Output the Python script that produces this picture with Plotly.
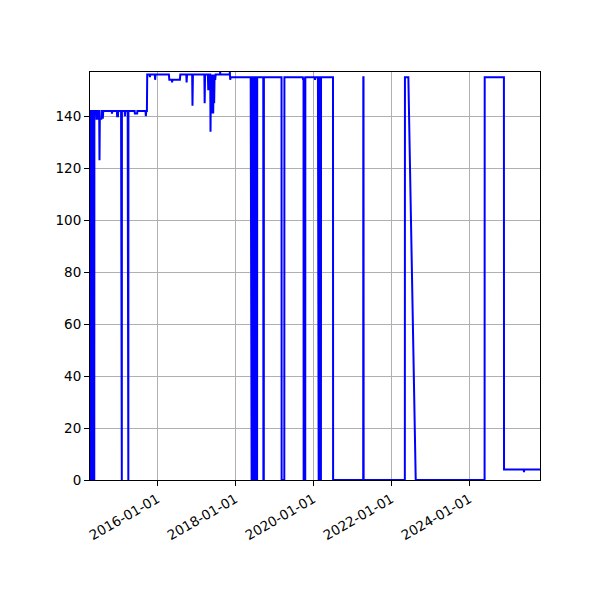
import plotly.graph_objects as go

dates = [
    "2014-04-10", "2014-04-13", "2014-04-14", "2014-04-20", "2014-04-21",
    "2014-04-27", "2014-04-28", "2014-05-05", "2014-05-06",
    "2014-05-12", "2014-05-13", "2014-05-20", "2014-05-21",
    "2014-06-08", "2014-06-10", "2014-06-20", "2014-06-22",
    "2014-07-05", "2014-07-08", "2014-07-11", "2014-07-25", "2014-07-28",
    "2014-08-06", "2014-08-08", "2014-08-12",
    "2014-10-30", "2014-11-02", "2014-11-06",
    "2014-12-18", "2014-12-20", "2014-12-28", "2014-12-30",
    "2015-01-26", "2015-01-27", "2015-02-02", "2015-02-03",
    "2015-03-01", "2015-03-03", "2015-03-07",
    "2015-03-29", "2015-03-30", "2015-04-04", "2015-04-05",
    "2015-06-02", "2015-06-04", "2015-06-26", "2015-06-28",
    "2015-09-12", "2015-09-15", "2015-09-19",
    "2015-09-25", "2015-09-28",
    "2015-10-20", "2015-10-23", "2015-10-27",
    "2015-12-08", "2015-12-11", "2015-12-15",
    "2016-04-18", "2016-04-22", "2016-05-14", "2016-05-18", "2016-05-22", "2016-07-30", "2016-08-03",
    "2016-09-28", "2016-10-01", "2016-10-05",
    "2016-11-22", "2016-11-25", "2016-11-29",
    "2017-03-16", "2017-03-19", "2017-03-23",
    "2017-04-18", "2017-04-22", "2017-04-26",
    "2017-05-10", "2017-05-13", "2017-05-16", "2017-05-20", "2017-05-25", "2017-05-29",
    "2017-06-03", "2017-06-07", "2017-06-11", "2017-06-16", "2017-06-20", "2017-06-26", "2017-06-30",
    "2017-08-09", "2017-08-11", "2017-08-14",
    "2017-11-08", "2017-11-10", "2017-11-13", "2017-11-18",
    "2018-05-24",
    "2018-05-27", "2018-06-02", "2018-06-03", "2018-06-08", "2018-06-09", "2018-06-15",
    "2018-06-16", "2018-06-21", "2018-06-22", "2018-06-28", "2018-06-29", "2018-07-04",
    "2018-07-05", "2018-07-11", "2018-07-12", "2018-07-17", "2018-07-18", "2018-07-23", "2018-07-24",
    "2018-09-19", "2018-09-20", "2018-09-24", "2018-09-25",
    "2019-03-09", "2019-03-10", "2019-04-04", "2019-04-05",
    "2019-09-24", "2019-09-27", "2019-10-01", "2019-10-02", "2019-10-17", "2019-10-18",
    "2020-01-14", "2020-01-17", "2020-01-21",
    "2020-02-13", "2020-02-14", "2020-02-20", "2020-02-21", "2020-02-27", "2020-02-28",
    "2020-03-12", "2020-03-13",
    "2020-07-03", "2020-07-04",
    "2021-04-12", "2021-04-13", "2021-04-15", "2021-04-16",
    "2022-05-07", "2022-05-08", "2022-06-09", "2022-08-17",
    "2024-05-23", "2024-05-24", "2024-11-20", "2024-11-21",
    "2025-05-24", "2025-05-27", "2025-05-30", "2025-10-24",
]

values = [
    142, 142, 0, 0, 142,
    142, 0, 0, 142,
    142, 0, 0, 142,
    142, 139, 139, 142,
    142, 123, 139, 139, 142,
    142, 139, 142,
    142, 141, 142,
    142, 140, 140, 142,
    142, 0, 0, 142,
    142, 140, 142,
    142, 0, 0, 142,
    142, 141, 141, 142,
    142, 140, 142,
    142, 156,
    156, 155, 156,
    156, 154, 156,
    156, 154, 154, 153, 154, 154, 156,
    156, 153, 156,
    156, 144, 156,
    156, 145, 156,
    156, 150, 156,
    156, 134, 150, 141, 156, 143,
    156, 141, 156, 145, 156, 154, 156,
    156, 157, 156,
    156, 157, 154, 155,
    155,
    0, 0, 155, 155, 0, 0,
    155, 155, 0, 0, 155, 155,
    0, 0, 155, 155, 0, 0, 155,
    155, 0, 0, 155,
    155, 0, 0, 155,
    155, 154, 155, 0, 0, 155,
    155, 154, 155,
    155, 0, 0, 155, 155, 0,
    0, 155,
    155, 0,
    0, 155, 155, 0,
    0, 155, 155, 0,
    0, 155, 155, 4,
    4, 3, 4, 4,
]

x_tick_vals = ["2016-01-01", "2018-01-01", "2020-01-01", "2022-01-01", "2024-01-01"]
x_tick_text = ["2016-01-01", "2018-01-01", "2020-01-01", "2022-01-01", "2024-01-01"]
y_tick_vals = [0, 20, 40, 60, 80, 100, 120, 140]

fig = go.Figure()
fig.add_trace(go.Scatter(
    x=dates, y=values, mode="lines",
    line=dict(color="#0000ff", width=2),
    showlegend=False,
))

axis_common = dict(
    showline=True, linecolor="black", linewidth=1.1, mirror=True,
    ticks="outside", ticklen=5, tickwidth=1.1, tickcolor="black",
    showgrid=True, gridcolor="#b0b0b0", gridwidth=1.1,
    zeroline=False,
    tickfont=dict(family="DejaVu Sans", size=13.5, color="black"),
)

fig.update_layout(
    width=600, height=600,
    margin=dict(l=82, r=68, t=64, b=128),
    paper_bgcolor="white", plot_bgcolor="white",
    xaxis=dict(
        type="date",
        range=["2014-04-10", "2025-10-24"],
        tickvals=x_tick_vals, ticktext=x_tick_text,
        tickangle=-30,
        **axis_common,
    ),
    yaxis=dict(
        range=[0, 157],
        tickvals=y_tick_vals,
        **axis_common,
    ),
)

fig.write_html("out.html")
